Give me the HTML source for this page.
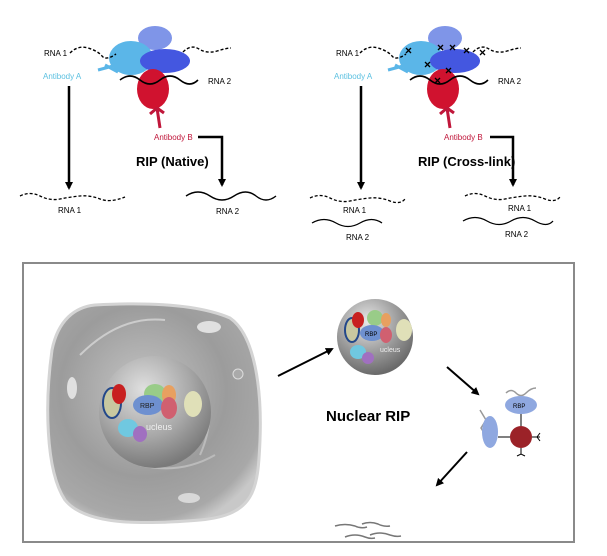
<!DOCTYPE html>
<html><head><style>
html,body{margin:0;padding:0;background:#fff}
svg{display:block}
text{font-family:"Liberation Sans",sans-serif}
</style></head><body>
<svg width="607" height="556" viewBox="0 0 607 556">
<defs>
<marker id="ah" markerWidth="8" markerHeight="8" refX="6" refY="4" orient="auto" markerUnits="userSpaceOnUse"><path d="M0,0 L8,4 L0,8 Z" fill="#000"/></marker>
<radialGradient id="cell" cx="0.45" cy="0.4" r="0.65"><stop offset="0" stop-color="#c4c4c4"/><stop offset="0.6" stop-color="#9c9c9c"/><stop offset="0.9" stop-color="#a8a8a8"/><stop offset="1" stop-color="#c8c8c8"/></radialGradient>
<radialGradient id="nuc" cx="0.4" cy="0.3" r="0.7"><stop offset="0" stop-color="#e0e0e0"/><stop offset="0.6" stop-color="#a8a8a8"/><stop offset="1" stop-color="#7a7a7a"/></radialGradient>
<radialGradient id="nuc2" cx="0.4" cy="0.3" r="0.7"><stop offset="0" stop-color="#e8e8e8"/><stop offset="0.6" stop-color="#9a9a9a"/><stop offset="1" stop-color="#6a6a6a"/></radialGradient>
<g id="complex">
 <ellipse cx="155" cy="38" rx="17" ry="12" fill="#7f95e8"/>
 <ellipse cx="131" cy="58" rx="22" ry="17" fill="#5bb6e8"/>
 <ellipse cx="165" cy="61" rx="25" ry="12" fill="#4457e0"/>
 <path d="M118,72 L105,65 M113,66 L98,70" stroke="#5bb6e8" stroke-width="3" fill="none"/>
 <ellipse cx="153" cy="89" rx="16" ry="20" fill="#d0122f"/>
 <path d="M157,108 L160,128 M157,108 L150,114 M157,108 L164,113" stroke="#c0163a" stroke-width="3" fill="none"/>
 <path d="M120,80 q10,-8 20,0 t20,0 t20,0 t18,0" stroke="#000" stroke-width="1.6" fill="none"/>
 <path d="M70,53 q8,-8 18,-5 t14,8 t14,-2" stroke="#000" stroke-width="1.4" stroke-dasharray="3,2" fill="none"/>
 <path d="M183,52 q8,-8 16,-3 t18,2 t14,-3" stroke="#000" stroke-width="1.4" stroke-dasharray="3,2" fill="none"/>
</g>
</defs>

<use href="#complex"/>
<text x="44" y="56" font-size="8">RNA 1</text>
<text x="43" y="79" font-size="8" fill="#5bc0e0">Antibody A</text>
<text x="208" y="84" font-size="8">RNA 2</text>
<text x="154" y="140" font-size="8" fill="#c0163a">Antibody B</text>
<text x="136" y="166" font-size="13" font-weight="bold">RIP (Native)</text>
<line x1="69" y1="86" x2="69" y2="188" stroke="#000" stroke-width="2.5" marker-end="url(#ah)"/>
<path d="M198,137 H222 V185" stroke="#000" stroke-width="2.5" fill="none" marker-end="url(#ah)"/>
<path d="M20,196 q10,-5 20,0 t20,3 t20,-3 t20,3 t25,-2" stroke="#000" stroke-width="1.3" stroke-dasharray="3,2" fill="none"/>
<text x="58" y="213" font-size="8">RNA 1</text>
<path d="M186,196 q12,-8 24,0 t24,0 t22,0 t20,0" stroke="#000" stroke-width="1.4" fill="none"/>
<text x="216" y="214" font-size="8">RNA 2</text>

<g transform="translate(290,0)"><use href="#complex"/>
<g stroke="#000" stroke-width="1.3">
<path d="M116,48 l5,5 m0,-5 l-5,5"/><path d="M148,45 l5,5 m0,-5 l-5,5"/><path d="M160,45 l5,5 m0,-5 l-5,5"/><path d="M174,48 l5,5 m0,-5 l-5,5"/><path d="M190,50 l5,5 m0,-5 l-5,5"/><path d="M135,62 l5,5 m0,-5 l-5,5"/><path d="M156,68 l5,5 m0,-5 l-5,5"/><path d="M145,78 l5,5 m0,-5 l-5,5"/>
</g></g>
<text x="336" y="56" font-size="8">RNA 1</text>
<text x="334" y="79" font-size="8" fill="#5bc0e0">Antibody A</text>
<text x="498" y="84" font-size="8">RNA 2</text>
<text x="444" y="140" font-size="8" fill="#c0163a">Antibody B</text>
<text x="418" y="166" font-size="13" font-weight="bold">RIP (Cross-link)</text>
<line x1="361" y1="86" x2="361" y2="188" stroke="#000" stroke-width="2.5" marker-end="url(#ah)"/>
<path d="M490,137 H513 V185" stroke="#000" stroke-width="2.5" fill="none" marker-end="url(#ah)"/>
<path d="M310,198 q10,-5 20,0 t20,3 t20,-3 t20,3 t15,-2" stroke="#000" stroke-width="1.3" stroke-dasharray="3,2" fill="none"/>
<text x="343" y="213" font-size="8">RNA 1</text>
<path d="M312,223 q12,-7 24,0 t24,0 t22,0" stroke="#000" stroke-width="1.3" fill="none"/>
<text x="346" y="240" font-size="8">RNA 2</text>
<path d="M465,196 q10,-5 20,0 t20,3 t20,-3 t20,3 t15,-2" stroke="#000" stroke-width="1.3" stroke-dasharray="3,2" fill="none"/>
<text x="508" y="211" font-size="8">RNA 1</text>
<path d="M463,221 q12,-7 24,0 t24,0 t24,0 t18,0" stroke="#000" stroke-width="1.3" fill="none"/>
<text x="505" y="237" font-size="8">RNA 2</text>

<rect x="23" y="263" width="551" height="279" fill="#fff" stroke="#8a8a8a" stroke-width="2"/>
<path d="M95,305 C150,302 200,305 230,318 C255,335 262,390 260,440 C258,490 255,515 200,520 C140,525 85,525 65,500 C45,470 45,400 52,350 C58,320 75,307 95,305 Z" fill="url(#cell)" stroke="#d4d4d4" stroke-width="3"/>
<ellipse cx="72" cy="388" rx="5" ry="11" fill="#e0e0e0"/>
<ellipse cx="209" cy="327" rx="12" ry="6" fill="#e0e0e0"/>
<ellipse cx="189" cy="498" rx="11" ry="5" fill="#d8d8d8"/>
<circle cx="238" cy="374" r="5" fill="#aaa" stroke="#ddd"/>
<path d="M80,355 q40,-40 85,-35" stroke="#ccc" stroke-width="2" fill="none"/>
<path d="M140,465 q40,10 75,-10" stroke="#bbb" stroke-width="2" fill="none"/>
<path d="M195,380 q25,30 5,75" stroke="#bbb" stroke-width="2" fill="none"/>
<circle cx="155" cy="412" r="56" fill="url(#nuc)"/>
<g>
 <ellipse cx="112" cy="403" rx="9" ry="15" fill="#c8c8a0" stroke="#23488a" stroke-width="2"/>
 <ellipse cx="119" cy="394" rx="7" ry="10" fill="#c82020"/>
 <ellipse cx="155" cy="394" rx="11" ry="10" fill="#99cc88"/>
 <ellipse cx="169" cy="395" rx="7" ry="10" fill="#e8a060"/>
 <ellipse cx="148" cy="405" rx="15" ry="10" fill="#6e90d0"/>
 <text x="140" y="408" font-size="7" fill="#222">RBP</text>
 <ellipse cx="169" cy="408" rx="8" ry="11" fill="#d06070"/>
 <ellipse cx="193" cy="404" rx="9" ry="13" fill="#e0e0b8"/>
 <ellipse cx="128" cy="428" rx="10" ry="9" fill="#70c8e0"/>
 <ellipse cx="140" cy="434" rx="7" ry="8" fill="#a070c0"/>
 <text x="146" y="430" font-size="9" fill="#eee">ucleus</text>
</g>
<circle cx="375" cy="337" r="38" fill="url(#nuc2)"/>
<ellipse cx="352" cy="330" rx="7" ry="12" fill="#c8c8a0" stroke="#23488a" stroke-width="2"/>
<ellipse cx="358" cy="320" rx="6" ry="8" fill="#c82020"/>
<ellipse cx="375" cy="318" rx="8" ry="8" fill="#99cc88"/>
<ellipse cx="386" cy="320" rx="5" ry="7" fill="#e8a060"/>
<ellipse cx="372" cy="333" rx="12" ry="8" fill="#6e90d0"/>
<text x="365" y="336" font-size="6">RBP</text>
<ellipse cx="386" cy="335" rx="6" ry="8" fill="#d06070"/>
<ellipse cx="404" cy="330" rx="8" ry="11" fill="#e0e0b8"/>
<ellipse cx="358" cy="352" rx="8" ry="7" fill="#70c8e0"/>
<ellipse cx="368" cy="358" rx="6" ry="6" fill="#a070c0"/>
<text x="380" y="352" font-size="7" fill="#eee">ucleus</text>
<line x1="278" y1="376" x2="332" y2="349" stroke="#000" stroke-width="2" marker-end="url(#ah)"/>
<line x1="447" y1="367" x2="478" y2="394" stroke="#000" stroke-width="2" marker-end="url(#ah)"/>
<line x1="467" y1="452" x2="437" y2="485" stroke="#000" stroke-width="2" marker-end="url(#ah)"/>
<text x="326" y="421" font-size="15" font-weight="bold">Nuclear RIP</text>
<path d="M506,393 q5,-5 10,0 t10,0 t10,-5" stroke="#999" stroke-width="1.5" fill="none"/>
<path d="M480,410 l6,10 l-5,8 l5,8" stroke="#999" stroke-width="1.5" fill="none"/>
<ellipse cx="521" cy="405" rx="16" ry="9" fill="#8fa8e0"/>
<text x="513" y="408" font-size="6">RBP</text>
<ellipse cx="490" cy="432" rx="8" ry="16" fill="#8fa8e0"/>
<line x1="521" y1="414" x2="521" y2="426" stroke="#000"/>
<line x1="498" y1="437" x2="510" y2="437" stroke="#000"/>
<circle cx="521" cy="437" r="11" fill="#9b2228"/>
<path d="M532,437 h8 M540,433 l-3,4 l3,4 M521,448 v6 M517,456 l4,-2 l4,2" stroke="#000" fill="none"/>
<g stroke="#777" stroke-width="1.5" fill="none">
<path d="M335,526 q10,-3 20,0 q6,3 12,1"/><path d="M362,524 q8,-3 16,0 q6,3 12,2"/><path d="M345,537 q10,-4 20,0 q5,2 10,1"/><path d="M370,535 q10,-4 20,0 q6,2 11,1"/>
</g>
</svg>
</body></html>
